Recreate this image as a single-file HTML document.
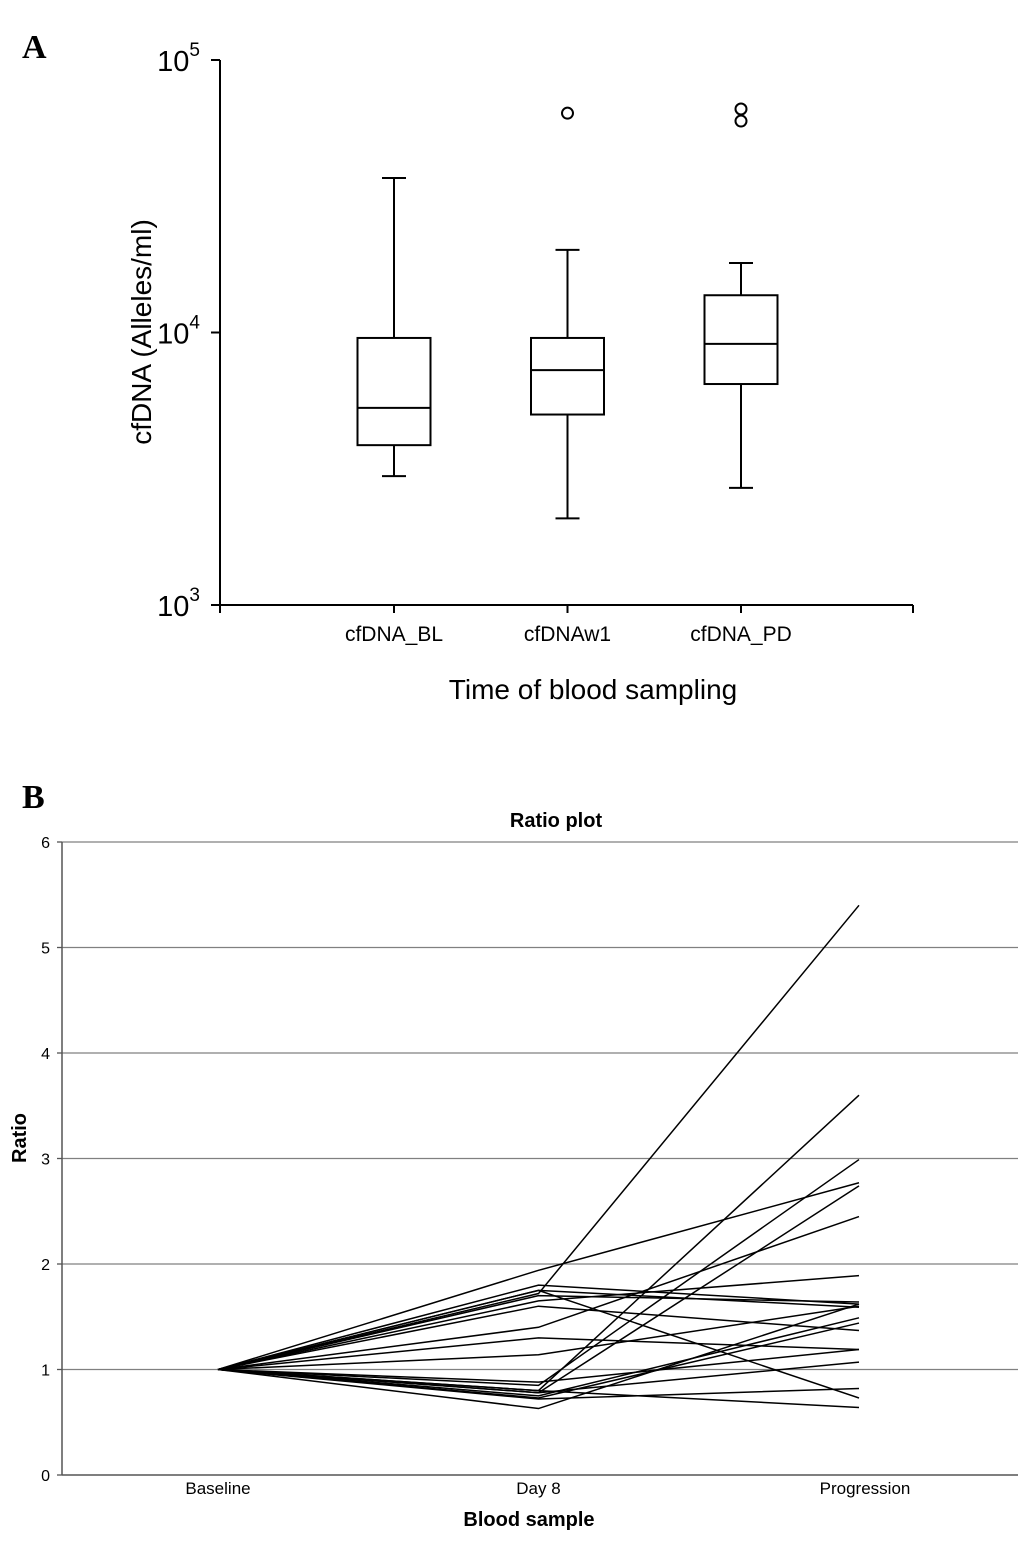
<!DOCTYPE html>
<html><head><meta charset="utf-8"><style>
body{margin:0;background:#fff;}
svg text{font-family:"Liberation Sans",Arial,sans-serif;}
</style></head><body>
<svg width="1035" height="1544" viewBox="0 0 1035 1544" xmlns="http://www.w3.org/2000/svg">
<text x="22" y="58" font-weight="bold" font-size="34" style="font-family:'Liberation Serif',serif">A</text>
<text x="22" y="808" font-weight="bold" font-size="34" style="font-family:'Liberation Serif',serif">B</text>
<g id="boxA"></g>
<g id="lineB"></g>
</svg>
<script>
// Panel A data
const boxCats = ["cfDNA_BL","cfDNAw1","cfDNA_PD"];
const boxMin = [2970, 2080, 2690];
const boxQ1 = [3860, 5000, 6470];
const boxMed = [5290, 7280, 9080];
const boxQ3 = [9550, 9550, 13700];
const boxMax = [36900, 20100, 18000];
const boxOutliers = [[], [63800], [66100, 59700]];
// Panel B data
const ratioCats = ["Baseline","Day 8","Progression"];
const ratioTicks = [0,1,2,3,4,5,6];
const seriesDay8 = [1.72,0.85,0.78,1.94,0.80,1.40,1.65,1.80,1.75,1.70,1.75,1.60,1.30,0.88,0.78,0.75,0.73,0.63,1.14,0.72,0.80];
const seriesProg = [5.40,2.99,2.74,2.77,3.60,2.45,1.89,1.62,1.59,1.64,0.73,1.37,1.19,1.19,1.07,1.49,1.44,1.62,1.60,0.82,0.64];

const NS="http://www.w3.org/2000/svg";
function mk(parent,tag,attrs,text){const e=document.createElementNS(NS,tag);for(const k in attrs)e.setAttribute(k,attrs[k]);if(text!==undefined)e.textContent=text;parent.appendChild(e);return e;}

// ---- Panel A ----
const A=document.getElementById('boxA');
const yA=v=>605-(Math.log10(v)-3)*272.5;
const xA=i=>394+i*173.5;
let e;
e=mk(A,'line',{x1:220,y1:60,x2:220,y2:605,stroke:'#000','stroke-width':2});


e=mk(A,'line',{x1:220,y1:605,x2:913,y2:605,stroke:'#000','stroke-width':2});


mk(A,'line',{x1:913,y1:605,x2:913,y2:613,stroke:'#000','stroke-width':2});
[3,4,5].forEach(p=>{
  const y=yA(Math.pow(10,p));
  mk(A,'line',{x1:211,y1:y,x2:220,y2:y,stroke:'#000','stroke-width':2});
  const t=mk(A,'text',{x:200,y:y+11,'font-size':29,'text-anchor':'end'});
  
  
  t.innerHTML='10<tspan font-size="19" dy="-15">'+p+'</tspan>';
});
boxCats.forEach((c,i)=>{
  const x=xA(i),w=36.5;
  const g=mk(A,'g',{});
  
  
  const s={stroke:'#000','stroke-width':2,fill:'none'};
  mk(g,'line',Object.assign({x1:x,y1:yA(boxMax[i]),x2:x,y2:yA(boxQ3[i])},s));
  mk(g,'line',Object.assign({x1:x,y1:yA(boxQ1[i]),x2:x,y2:yA(boxMin[i])},s));
  mk(g,'line',Object.assign({x1:x-12,y1:yA(boxMax[i]),x2:x+12,y2:yA(boxMax[i])},s));
  mk(g,'line',Object.assign({x1:x-12,y1:yA(boxMin[i]),x2:x+12,y2:yA(boxMin[i])},s));
  mk(g,'rect',Object.assign({x:x-w,y:yA(boxQ3[i]),width:2*w,height:yA(boxQ1[i])-yA(boxQ3[i])},s));
  mk(g,'line',Object.assign({x1:x-w,y1:yA(boxMed[i]),x2:x+w,y2:yA(boxMed[i])},s));
  boxOutliers[i].forEach(o=>{const c2=mk(g,'circle',Object.assign({cx:x,cy:yA(o),r:5.5},s));
    
    });
  mk(A,'line',{x1:x,y1:605,x2:x,y2:613,stroke:'#000','stroke-width':2});
  const t=mk(A,'text',{x:x,y:641,'font-size':21,'text-anchor':'middle'},c);
  
  
});
mk(A,'line',{x1:220,y1:605,x2:220,y2:613,stroke:'#000','stroke-width':2});
e=mk(A,'text',{x:593,y:699,'font-size':28,'text-anchor':'middle'},'Time of blood sampling');


e=mk(A,'text',{x:0,y:0,'font-size':28,'text-anchor':'middle',transform:'translate(151,332) rotate(-90)'},'cfDNA (Alleles/ml)');



// ---- Panel B ----
const B=document.getElementById('lineB');
const yB=v=>1475-v*105.5;
const xB=i=>218+i*320.5;
ratioTicks.forEach(v=>{
  const y=yB(v);
  if(v>0){const g=mk(B,'line',{x1:62,y1:y,x2:1018,y2:y,stroke:'#808080','stroke-width':1.3});
    
    }
  mk(B,'line',{x1:57,y1:y,x2:62,y2:y,stroke:'#555','stroke-width':1.3});
  const t=mk(B,'text',{x:50,y:y+6,'font-size':16,'text-anchor':'end'},v);
  
  
});
e=mk(B,'line',{x1:62,y1:842,x2:62,y2:1475,stroke:'#555','stroke-width':1.5});


e=mk(B,'line',{x1:62,y1:1475,x2:1018,y2:1475,stroke:'#555','stroke-width':1.5});


ratioCats.forEach((c,i)=>{
  const t=mk(B,'text',{x:xB(i)+(i==2?6:0),y:1494,'font-size':17,'text-anchor':'middle'},c);
  
  
});
seriesDay8.forEach((d,i)=>{
  const p=mk(B,'polyline',{points:`${xB(0)},${yB(1)} ${xB(1)},${yB(d)} ${xB(2)},${yB(seriesProg[i])}`,fill:'none',stroke:'#000','stroke-width':1.5});
  
  
});
e=mk(B,'text',{x:556,y:827,'font-size':20,'font-weight':'bold','text-anchor':'middle'},'Ratio plot');


e=mk(B,'text',{x:529,y:1526,'font-size':20,'font-weight':'bold','text-anchor':'middle'},'Blood sample');


e=mk(B,'text',{x:0,y:0,'font-size':20,'font-weight':'bold','text-anchor':'middle',transform:'translate(26,1138) rotate(-90)'},'Ratio');


</script>
</body></html>
